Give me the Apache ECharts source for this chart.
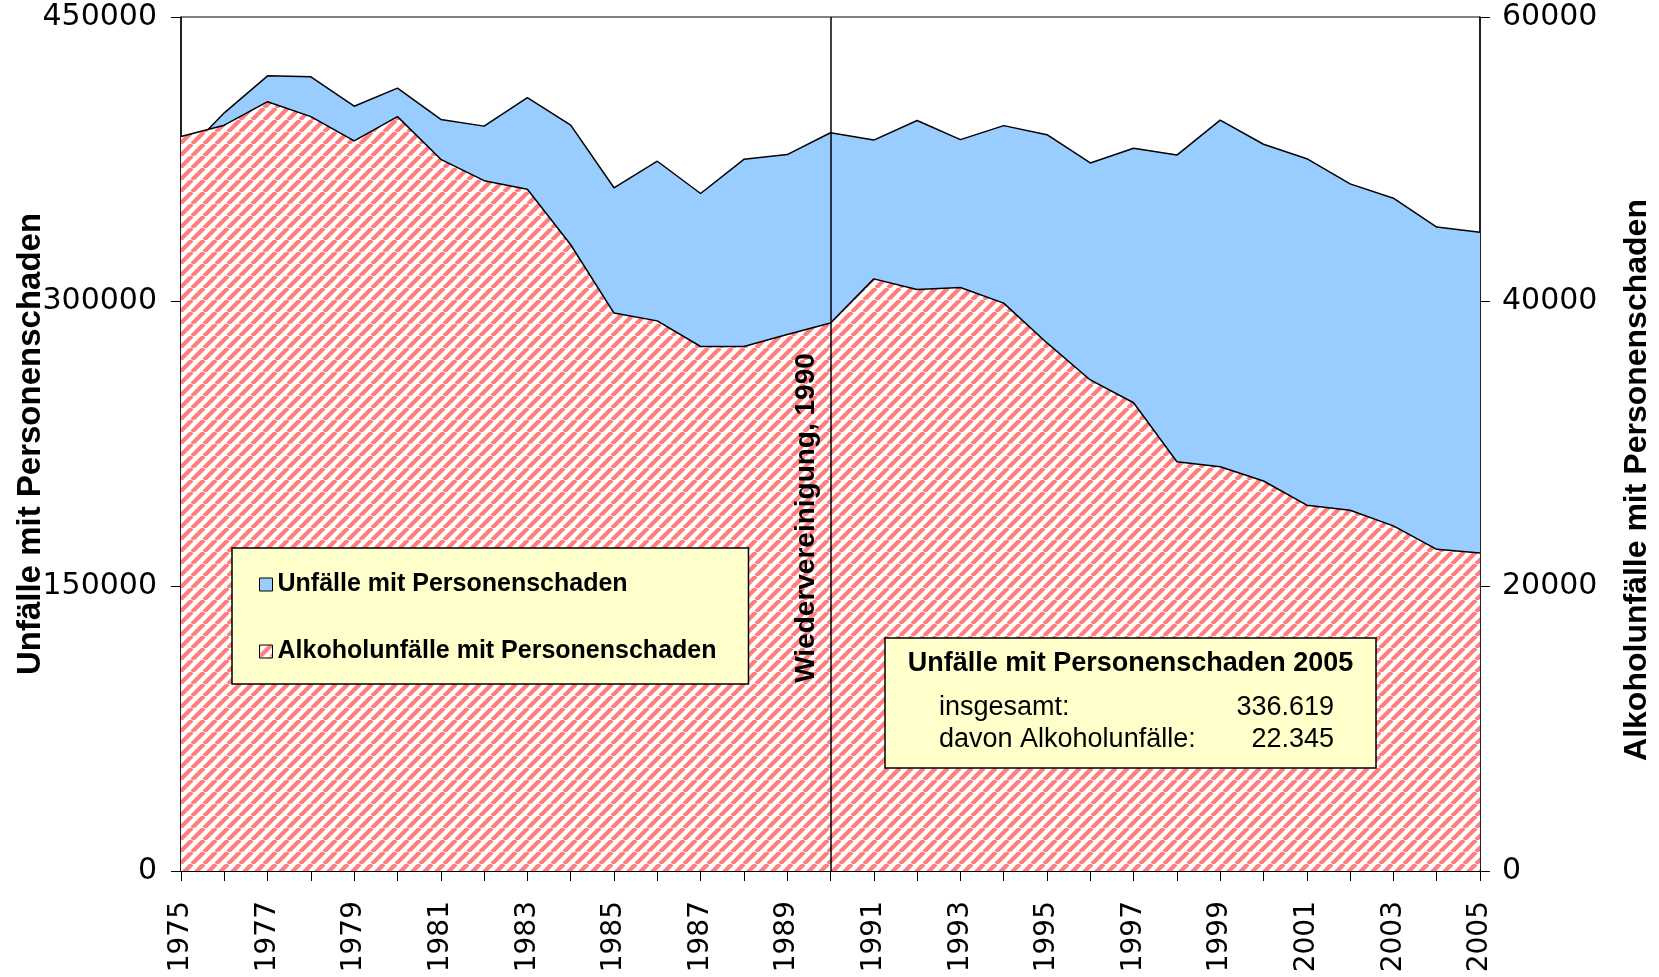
<!DOCTYPE html>
<html>
<head>
<meta charset="utf-8">
<script src="https://cdn.jsdelivr.net/npm/echarts@6.0.0/dist/echarts.min.js"></script>
<style>
  html, body { margin: 0; padding: 0; background: #fff; }
  #main { width: 1659px; height: 977px; }
</style>
</head>
<body>
<div id="main"></div>
<script>
// Jahre 1975 - 2005
const years = [
  "1975", "1976", "1977", "1978", "1979", "1980", "1981", "1982", "1983", "1984",
  "1985", "1986", "1987", "1988", "1989", "1990", "1991", "1992", "1993", "1994",
  "1995", "1996", "1997", "1998", "1999", "2000", "2001", "2002", "2003", "2004",
  "2005",
];

// Unfälle mit Personenschaden (linke Achse)
const unfaelle = [
  376000, 399500, 419000, 418500, 403000, 412500, 396000, 392500, 407500, 393000,
  360000, 374000, 357000, 375000, 377500, 389000, 385147, 395462, 385384, 392754,
  388003, 373082, 380835, 377257, 395689, 382949, 375345, 362054, 354534, 339310,
  336619,
];

// Alkoholunfälle mit Personenschaden (rechte Achse)
const alkohol = [
  51600, 52400, 54050, 53000, 51300, 53000, 50000, 48500, 47900, 44000,
  39200, 38650, 36850, 36850, 37700, 38500, 41600, 40850, 41000, 39900,
  37100, 34500, 32900, 28750, 28400, 27400, 25700, 25350, 24250, 22600,
  22345,
];

const leftAxisName = "Unfälle mit Personenschaden";
const rightAxisName = "Alkoholunfälle mit Personenschaden";
const markYear = "1990";
const markText = "Wiedervereinigung, 1990";

const blue = "#99CCFF";
const hatchRed = "#FF7E7E";

// diagonal hatch pattern for the alcohol area
function makeHatch() {
  const size = 12;
  const cv = document.createElement("canvas");
  cv.width = size;
  cv.height = size;
  const ctx = cv.getContext("2d");
  ctx.fillStyle = "#ffffff";
  ctx.fillRect(0, 0, size, size);
  ctx.strokeStyle = hatchRed;
  ctx.lineWidth = 4.3;
  for (let k = -size; k <= size; k += size) {
    ctx.beginPath();
    ctx.moveTo(k, size);
    ctx.lineTo(k + size, 0);
    ctx.stroke();
  }
  return cv;
}
const hatch = { image: makeHatch(), repeat: "repeat" };

const chart = echarts.init(document.getElementById("main"), null, { renderer: "canvas" });

const tickFont = "DejaVu Sans";
const textFont = "Liberation Sans";
const last = years.length - 1;
const plain = (v) => String(v);

const option = {
  animation: false,
  backgroundColor: "#ffffff",
  grid: {
    left: 181,
    right: 179,
    top: 17,
    bottom: 106,
    outerBoundsMode: "none",
    containLabel: false,
    show: true,
    borderColor: "#000",
    borderWidth: 1,
    backgroundColor: "transparent",
  },
  legend: {
    orient: "vertical",
    left: 232,
    top: 548,
    padding: [24, 32, 20, 27],
    itemGap: 42,
    itemWidth: 13,
    itemHeight: 13,
    icon: "rect",
    selectedMode: false,
    backgroundColor: "#FFFFCC",
    borderColor: "#000",
    borderWidth: 1.5,
    textStyle: { fontFamily: textFont, fontWeight: "bold", fontSize: 25, color: "#000" },
    data: [
      { name: leftAxisName, itemStyle: { color: blue, borderColor: "#000", borderWidth: 1 } },
      { name: "Alkoholunfälle mit Personenschaden", itemStyle: { color: hatch, borderColor: "#000", borderWidth: 1 } },
    ],
  },
  xAxis: {
    type: "category",
    data: years,
    boundaryGap: false,
    axisLine: { lineStyle: { color: "#000", width: 2 } },
    axisTick: { show: true, interval: 0, length: 10, lineStyle: { color: "#000", width: 1 } },
    axisLabel: {
      interval: 1,
      rotate: 90,
      margin: 30,
      color: "#000",
      fontFamily: tickFont,
      fontSize: 28,
    },
    splitLine: { show: false },
  },
  yAxis: [
    {
      type: "value",
      min: 0,
      max: 450000,
      interval: 150000,
      position: "left",
      name: leftAxisName,
      nameLocation: "middle",
      nameRotate: 90,
      nameGap: 134,
      nameMoveOverlap: false,
      nameTextStyle: { fontFamily: textFont, fontWeight: "bold", fontSize: 33, color: "#000" },
      axisLine: { show: true, lineStyle: { color: "#000", width: 1.5 } },
      axisTick: { show: true, length: 10, lineStyle: { color: "#000" } },
      axisLabel: { margin: 24, color: "#000", fontFamily: tickFont, fontSize: 30, formatter: plain },
      splitLine: { show: false },
    },
    {
      type: "value",
      min: 0,
      max: 60000,
      interval: 20000,
      position: "right",
      name: rightAxisName,
      nameLocation: "middle",
      nameRotate: 90,
      nameGap: 141,
      nameMoveOverlap: false,
      nameTextStyle: {
        fontFamily: textFont,
        fontWeight: "bold",
        fontSize: 32,
        color: "#000",
        padding: [0, 72, 0, 0],
      },
      axisLine: { show: true, lineStyle: { color: "#000", width: 1.5 } },
      axisTick: { show: true, length: 10, lineStyle: { color: "#000" } },
      axisLabel: { margin: 22, color: "#000", fontFamily: tickFont, fontSize: 30, formatter: plain },
      splitLine: { show: false },
    },
  ],
  series: [
    {
      name: leftAxisName,
      type: "line",
      z: 2,
      yAxisIndex: 0,
      data: unfaelle,
      symbol: "none",
      itemStyle: { color: blue },
      lineStyle: { color: "#000", width: 1.5 },
      areaStyle: { color: blue, opacity: 1 },
    },
    {
      name: "Alkoholunfälle mit Personenschaden",
      type: "line",
      z: 3,
      yAxisIndex: 1,
      data: alkohol,
      symbol: "none",
      itemStyle: { color: hatchRed },
      lineStyle: { color: "#000", width: 1.5 },
      areaStyle: { color: hatch, opacity: 1 },
      markLine: {
        silent: true,
        symbol: "none",
        label: { show: false },
        lineStyle: { color: "#000", type: "solid", width: 1.5 },
        data: [{ xAxis: markYear }],
      },
    },
  ],
};

chart.setOption(option);

// annotations: reunification label beside the 1990 line, and 2005 summary box
const lineX = chart.convertToPixel({ xAxisIndex: 0 }, markYear);
const fmt = (v) => v.toLocaleString("de-DE");
const boxX = 885, boxY = 638, boxW = 491, boxH = 130;

chart.setOption({
  graphic: [
    {
      type: "text",
      x: lineX - 24,
      y: 518,
      rotation: Math.PI / 2,
      z: 10,
      style: {
        text: markText,
        fontFamily: textFont,
        fontWeight: "bold",
        fontSize: 28,
        fill: "#000",
        align: "center",
        verticalAlign: "middle",
      },
    },
    {
      type: "rect",
      z: 10,
      shape: { x: boxX, y: boxY, width: boxW, height: boxH },
      style: { fill: "#FFFFCC", stroke: "#000", lineWidth: 1.5 },
    },
    {
      type: "text",
      z: 11,
      x: boxX + boxW / 2,
      y: 664,
      style: {
        text: "Unfälle mit Personenschaden " + years[last],
        fontFamily: textFont,
        fontWeight: "bold",
        fontSize: 27,
        fill: "#000",
        align: "center",
        verticalAlign: "middle",
      },
    },
    {
      type: "text",
      z: 11,
      x: 939,
      y: 708,
      style: { text: "insgesamt:", fontFamily: textFont, fontSize: 27, fill: "#000", align: "left", verticalAlign: "middle" },
    },
    {
      type: "text",
      z: 11,
      x: 1334,
      y: 708,
      style: { text: fmt(unfaelle[last]), fontFamily: textFont, fontSize: 27, fill: "#000", align: "right", verticalAlign: "middle" },
    },
    {
      type: "text",
      z: 11,
      x: 939,
      y: 740,
      style: { text: "davon Alkoholunfälle:", fontFamily: textFont, fontSize: 27, fill: "#000", align: "left", verticalAlign: "middle" },
    },
    {
      type: "text",
      z: 11,
      x: 1334,
      y: 740,
      style: { text: fmt(alkohol[last]), fontFamily: textFont, fontSize: 27, fill: "#000", align: "right", verticalAlign: "middle" },
    },
  ],
});
</script>
</body>
</html>
